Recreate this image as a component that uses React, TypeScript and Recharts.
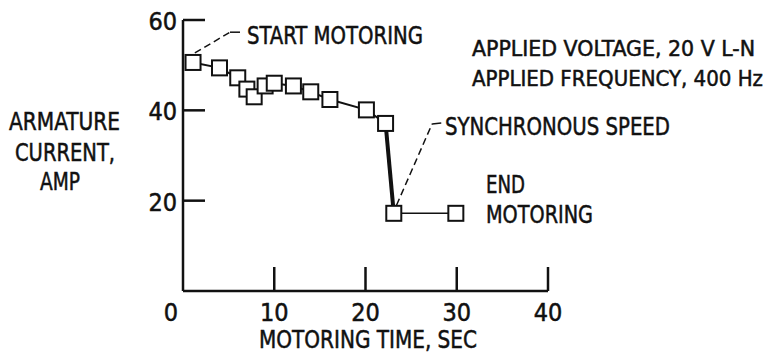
import React from 'react';
import { ComposedChart, Line, XAxis, YAxis, ReferenceLine } from 'recharts';

// motoring run: time (sec) vs armature current (amp)
const times = [1.1, 4.0, 6.0, 7.0, 7.8, 9.0, 10.0, 12.1, 14.0, 16.1, 20.1, 22.2, 23.1, 29.9];
const currents = [50.6, 49.4, 47.2, 44.7, 43.0, 45.4, 46.0, 45.4, 44.1, 42.4, 40.1, 37.1, 17.2, 17.2];

const xTicks = [0, 10, 20, 30, 40];
const yTicks = [20, 40, 60];

const points = times.map((t, i) => ({ time: t, current: currents[i] }));
const runUp = points.slice(0, 12);
const drop = points.slice(11, 13);
const coast = points.slice(12);

const INK = '#111';
const FONT = "'Liberation Sans Narrow', 'DejaVu Sans Condensed', 'Liberation Sans', sans-serif";

const SquareDot = (props: any) => {
  const { cx, cy, index } = props;
  if (cx == null || cy == null) return <g key={index} />;
  return (
    <rect key={index} x={cx - 7.5} y={cy - 7.5} width={15} height={15}
      fill="#fff" stroke={INK} strokeWidth={2} />
  );
};

const XTick = ({ x, y, payload }: any) => {
  const v = payload.value;
  return (
    <g>
      {v !== 0 && <line x1={x} x2={x} y1={y} y2={y - 24} stroke={INK} strokeWidth={2.5} />}
      <text x={v === 0 ? x - 12 : x} y={y + 30} textAnchor="middle" fontSize={25}
        fontFamily={FONT} fill={INK} stroke={INK} strokeWidth={0.5}>{v}</text>
    </g>
  );
};

const YTick = ({ x, y, payload }: any) => (
  <g>
    <line x1={x} x2={x + 22} y1={y} y2={y} stroke={INK} strokeWidth={2.5} />
    <text x={x - 6} y={y + 10} textAnchor="end" fontSize={25} fontFamily={FONT} fill={INK}
      stroke={INK} strokeWidth={0.5}>
      {payload.value}
    </text>
  </g>
);

// fixed-width lettering so each label spans the same run as the lettering guide
const Lettering = ({ x, y, w, size, children }: any) => (
  <text x={x} y={y} fontSize={size} fontFamily={FONT} fill={INK} stroke={INK} strokeWidth={0.5}
    textLength={w} lengthAdjust="spacingAndGlyphs">{children}</text>
);

export default function App() {
  return (
    <div style={{ position: 'absolute', left: 0, top: 0, width: 770, height: 356, background: '#fff' }}>
      <ComposedChart width={770} height={356}
        margin={{ top: 20, right: 222, bottom: 64, left: 182 }}>
        <XAxis dataKey="time" type="number" domain={[0, 40]} ticks={xTicks} height={1}
          axisLine={{ stroke: INK, strokeWidth: 2.5 }} tickLine={false} tickSize={0} tickMargin={0}
          tick={<XTick />} interval={0} allowDataOverflow />
        <YAxis dataKey="current" type="number" domain={[0, 60]} ticks={yTicks} width={1}
          axisLine={{ stroke: INK, strokeWidth: 2.5 }} tickLine={false} tickSize={0} tickMargin={0}
          tick={<YTick />} interval={0} allowDataOverflow />
        <ReferenceLine segment={[{ x: 1.3, y: 52.7 }, { x: 5.15, y: 57.3 }]} stroke={INK}
          strokeWidth={1.5} strokeDasharray="7 4" ifOverflow="visible" />
        <ReferenceLine segment={[{ x: 5.15, y: 57.3 }, { x: 6.25, y: 57.3 }]} stroke={INK}
          strokeWidth={1.5} ifOverflow="visible" />
        <ReferenceLine segment={[{ x: 23.4, y: 19.0 }, { x: 27.3, y: 37.0 }]} stroke={INK}
          strokeWidth={1.5} strokeDasharray="7 4" ifOverflow="visible" />
        <ReferenceLine segment={[{ x: 27.3, y: 37.0 }, { x: 28.3, y: 37.2 }]} stroke={INK}
          strokeWidth={1.5} ifOverflow="visible" />
        <Line data={runUp} dataKey="current" type="linear" stroke={INK} strokeWidth={2}
          dot={false} isAnimationActive={false} />
        <Line data={drop} dataKey="current" type="linear" stroke={INK} strokeWidth={4}
          dot={false} isAnimationActive={false} />
        <Line data={coast} dataKey="current" type="linear" stroke={INK} strokeWidth={1.5}
          dot={false} isAnimationActive={false} />
        <Line data={points} dataKey="current" type="linear" stroke="none"
          dot={SquareDot} activeDot={false} isAnimationActive={false} />
      </ComposedChart>
      <svg width={770} height={356} style={{ position: 'absolute', left: 0, top: 0, pointerEvents: 'none' }}>
        <Lettering x={247} y={44} w={176} size={24}>START MOTORING</Lettering>
        <Lettering x={472} y={56} w={283} size={21.5}>APPLIED VOLTAGE, 20 V L-N</Lettering>
        <Lettering x={472} y={86} w={291} size={22}>APPLIED FREQUENCY, 400 Hz</Lettering>
        <Lettering x={445} y={135} w={225} size={25}>SYNCHRONOUS SPEED</Lettering>
        <Lettering x={486} y={193} w={39} size={25}>END</Lettering>
        <Lettering x={486} y={222.5} w={107} size={25}>MOTORING</Lettering>
        <Lettering x={9} y={130} w={111} size={25}>ARMATURE</Lettering>
        <Lettering x={15} y={161} w={100} size={25}>CURRENT,</Lettering>
        <Lettering x={40} y={190} w={40} size={25}>AMP</Lettering>
        <Lettering x={259} y={348} w={218} size={25}>MOTORING TIME,  SEC</Lettering>
      </svg>
    </div>
  );
}
